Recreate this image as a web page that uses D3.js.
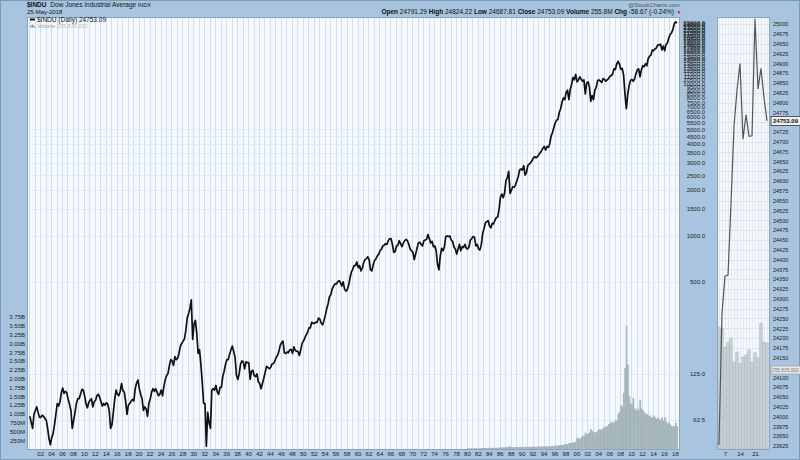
<!DOCTYPE html>
<html><head><meta charset="utf-8">
<script src="https://cdn.jsdelivr.net/npm/d3@7"></script>
<style>
html,body{margin:0;padding:0;background:#a8c4de;}
svg{display:block;font-family:Arial,"Liberation Sans",sans-serif;}
</style></head><body>
<svg id="c" width="800" height="460"></svg>
<script>
// ---------- DATA ----------
const dowStartYear = 1900; // quarterly closes (approx.), Dow Jones Industrial Average
const dow1900s = [66,60,55,68, 72,76,70,65, 65,67,66,64, 62,55,47,43, 48,51,58,68, 80,77,82,94, 101,93,96,94, 85,79,72,55, 62,70,80,86, 86,92,99,98];
const dow1910s = [90,80,75,81, 84,86,76,82, 84,90,92,88, 82,77,80,78, 81,79,72,55, 58,70,85,98, 92,90,96,108, 97,95,83,68, 78,80,83,85, 83,100,109,114];
const dow1920s = [100,92,86,72, 76,74,66,80, 86,95,100,96, 100,95,90,92, 98,90,104,115, 122,126,142,155, 152,142,162,155, 158,170,190,198, 205,212,240,290, 310,335,381,210];
const dow1930s = [265,280,230,170, 180,145,110,80, 80,42,70,60, 55,98,100,98, 105,95,92,102, 102,120,130,144, 155,155,168,180, 190,175,160,123, 115,125,145,152, 150,135,150,148];
const dow1940s = [148,115,130,132, 122,120,125,111, 108,100,108,117, 128,140,138,135, 138,145,146,151, 160,165,175,192, 200,205,172,170, 174,172,180,181, 170,188,178,176, 175,165,180,198];
const dow1950s = [205,215,225,234, 250,250,272,268, 268,272,272,290, 285,268,262,280, 303,333,360,400, 412,450,470,485, 485,500,510,495, 470,500,450,435, 445,475,530,580, 605,640,640,675];
const dow1960s = [620,640,590,615, 670,700,710,730, 700,600,590,650, 690,710,740,760, 800,820,860,870, 890,880,930,960, 960,880,780,790, 860,870,930,890, 850,900,930,950, 930,880,820,800];
const dow1970s = [780,700,760,830, 900,910,880,860, 930,940,950,1020, 960,900,920,850, 860,800,650,600, 740,830,800,850, 990,1000,990,1000, 940,920,850,820, 760,820,880,800, 850,840,880,830];
const dow1980s = [820,850,940,960, 990,980,860,880, 820,810,880,1040, 1120,1220,1240,1260, 1160,1130,1210,1200, 1270,1320,1330,1500, 1800,1880,1780,1900, 2300,2400,2650,1900, 1990,2100,2080,2160, 2300,2450,2700,2740];
const dow1990s = [2700,2880,2500,2600, 2900,2950,3010,3100, 3230,3300,3250,3300, 3400,3500,3600,3750, 3850,3650,3850,3800, 4000,4500,4750,5100, 5500,5700,5800,6450, 6800,7500,8000,7800, 8700,9000,7800,9100, 9800,10900,10500,11400];
const dow2000s = [10200,10500,11000,10600, 10300,10500,8500,10000, 10200,9500,7600,8300, 7800,9000,9400,10400, 10500,10300,10100,10700, 10600,10300,10500,10700, 11100,11200,11500,12400, 12300,13400,13900,13300, 12300,12500,11300,8500, 6800,8400,9600,10400];
const dow2010s = [10600,10300,10600,11500, 12200,12400,11000,12200, 13000,12800,13400,13000, 14500,15000,15300,16500, 16300,16800,17000,17800, 17800,18000,16500,17500, 16300,17900,18300,19700, 20800,21300,22400,24500, 25200,24753];

const volStartYear = 1980; // quarterly volume, millions of shares
const vol1980s = [15,15,18,18, 18,17,18,18, 18,20,28,30, 30,32,30,30, 30,30,33,32, 33,35,35,38, 42,45,48,45, 55,55,60,80, 50,50,48,50, 50,52,55,60];
const vol1990s = [55,58,60,58, 62,60,60,65, 65,62,62,65, 70,70,72,75, 75,72,72,75, 80,82,85,90, 100,100,98,105, 115,112,118,140, 140,135,170,165, 180,185,190,210];
const vol2000s = [320,300,290,330, 380,360,460,420, 430,470,560,520, 480,470,480,520, 560,550,560,600, 620,640,650,700, 720,780,740,760, 820,800,1000,1050, 1250,1200,1600,2300, 3500,2400,1500,1300];
const vol2010s = [1250,1450,1150,1100, 1150,1100,1400,1150, 1100,1050,1000,1000, 950,950,900,900, 950,900,850,900, 850,820,900,800, 900,780,720,760, 700,650,640,650, 750,640];

const priceTicks = [62.5,125,500,1000,1500,2000,2500,3000,3500,4000,4500,5000,5500,6000,6500,7000,7500,8000,8500,9000,9500,10000,10500,11000,11500,12000,12500,13000,13500,14000,14500,15000,15500,16000,16500,17000,17500,18000,18500,19000,19500,20000,20500,21000,21500,22000,22500,23000,23500,24000,24500,25000];
const volTicks = [250,500,750,1000,1250,1500,1750,2000,2250,2500,2750,3000,3250,3500,3750];
const yearTicks = [1902,1904,1906,1908,1910,1912,1914,1916,1918,1920,1922,1924,1926,1928,1930,1932,1934,1936,1938,1940,1942,1944,1946,1948,1950,1952,1954,1956,1958,1960,1962,1964,1966,1968,1970,1972,1974,1976,1978,1980,1982,1984,1986,1988,1990,1992,1994,1996,1998,2000,2002,2004,2006,2008,2010,2012,2014,2016,2018];

// last month (May 2018) detail panel
const mayDays = [1,2,3,4,7,8,9,10,11,14,15,16,17,18,21,22,23,24,25];
const mayCloses = [24099.05,23924.98,23930.15,24262.51,24357.32,24360.21,24542.54,24739.53,24831.17,24899.41,24706.41,24768.93,24713.98,24715.09,25013.29,24834.41,24886.81,24811.76,24753.09];
const mayVolumes = [300,294,294,290,246,258,268,210,234,207,222,227,239,210,232,220,304,258,255.8];
const miniDayTicks = [7,14,21];
const miniPriceTicks = d3.range(23925, 25001, 25);

// ---------- LAYOUT ----------
const W = 800, H = 460;
const P = {l:27, r:680, t:17, b:449};
const M = {l:717, r:770, t:17, b:449};
const svg = d3.select("#c");
const FONT = 6;

svg.append("rect").attr("width",W).attr("height",H).attr("fill","#a8c4de");
svg.append("rect").attr("x",0.5).attr("y",0.5).attr("width",W-1).attr("height",H-1)
  .attr("fill","none").attr("stroke","#7b9bbd");

// scales
const x = d3.scaleLinear().domain([1899.6, 2018.75]).range([P.l, P.r-1]);
const y = d3.scaleLog().domain([40.3, 27100]).range([P.b, P.t]);
const yVol = d3.scaleLinear().domain([0, 3750]).range([P.b, 317]);

const prices = [].concat(dow1900s,dow1910s,dow1920s,dow1930s,dow1940s,dow1950s,dow1960s,dow1970s,dow1980s,dow1990s,dow2000s,dow2010s)
  .map((v,i)=>({t: dowStartYear + (i+0.5)/4, v}));
const vols = [].concat(vol1980s,vol1990s,vol2000s,vol2010s)
  .map((v,i)=>({t: volStartYear + i/4, v}));

// main panel
svg.append("rect").attr("x",P.l).attr("y",P.t).attr("width",P.r-P.l).attr("height",P.b-P.t)
  .attr("fill","#f5f9fd");
svg.append("clipPath").attr("id","clipP").append("rect")
  .attr("x",P.l).attr("y",P.t).attr("width",P.r-P.l).attr("height",P.b-P.t);
const gP = svg.append("g").attr("clip-path","url(#clipP)");

// grid
gP.append("g").selectAll("line").data(d3.range(1900, 2019)).join("line")
  .attr("x1",d=>Math.round(x(d))+0.5).attr("x2",d=>Math.round(x(d))+0.5)
  .attr("y1",P.t).attr("y2",P.b).attr("stroke","#cfe1ef").attr("stroke-width",1);
gP.append("g").selectAll("line").data(priceTicks.filter(d=>d<=5000)).join("line")
  .attr("x1",P.l).attr("x2",P.r)
  .attr("y1",d=>Math.round(y(d))+0.5).attr("y2",d=>Math.round(y(d))+0.5)
  .attr("stroke","#e1ebf3").attr("stroke-width",1);

// volume
gP.append("g").selectAll("rect").data(vols).join("rect")
  .attr("x",d=>x(d.t)).attr("width",x(1901)-x(1900.75)+0.4)
  .attr("y",d=>yVol(d.v)).attr("height",d=>P.b-yVol(d.v))
  .attr("fill","#a5b6ba");

// price line
gP.append("path").datum(prices)
  .attr("d", d3.line().x(d=>x(d.t)).y(d=>y(d.v)))
  .attr("fill","none").attr("stroke","#111").attr("stroke-width",1.7)
  .attr("stroke-linejoin","round");

svg.append("rect").attr("x",P.l+0.5).attr("y",P.t+0.5).attr("width",P.r-P.l-1).attr("height",P.b-P.t)
  .attr("fill","none").attr("stroke","#86a5c6");

// axes main
const axR = svg.append("g").attr("transform",`translate(${P.r},0)`)
  .call(d3.axisRight(y).tickValues(priceTicks).tickFormat(d=>d.toFixed(1)).tickSize(0));
axR.select(".domain").remove();
axR.selectAll("text").attr("x",25).attr("text-anchor","end").attr("font-size",FONT).attr("fill","#222");

const axL = svg.append("g").attr("transform",`translate(${P.l},0)`)
  .call(d3.axisLeft(yVol).tickValues(volTicks)
    .tickFormat(d=> d>=1000 ? (d/1000).toFixed(2)+"B" : d+"M").tickSize(0).tickPadding(2));
axL.select(".domain").remove();
axL.selectAll("text").attr("font-size",FONT).attr("fill","#222");

const axB = svg.append("g").attr("transform",`translate(0,${P.b})`)
  .call(d3.axisBottom(x).tickValues(yearTicks).tickFormat(d=>String(d%100).padStart(2,"0")).tickSize(0).tickPadding(3));
axB.select(".domain").remove();
axB.selectAll("text").attr("font-size",FONT).attr("fill","#222");

// ---------- MINI PANEL ----------
const xm = d3.scaleLinear().domain([0, mayDays.length-1]).range([713, 767]);
const ym = d3.scaleLinear().domain([23917.4, 25017.8]).range([M.b, M.t]);
const ymv = d3.scaleLinear().domain([0, 1042.5]).range([M.b, M.t]);

svg.append("rect").attr("x",M.l).attr("y",M.t).attr("width",M.r-M.l).attr("height",M.b-M.t)
  .attr("fill","#f6f8fb");
svg.append("clipPath").attr("id","clipM").append("rect")
  .attr("x",M.l).attr("y",M.t).attr("width",M.r-M.l).attr("height",M.b-M.t);
const gM = svg.append("g").attr("clip-path","url(#clipM)");
gM.append("g").selectAll("line").data(miniPriceTicks).join("line")
  .attr("x1",M.l).attr("x2",M.r).attr("y1",d=>Math.round(ym(d))+0.5).attr("y2",d=>Math.round(ym(d))+0.5)
  .attr("stroke","#d6e4ef");
gM.append("g").selectAll("line").data(mayDays.map((d,i)=>i)).join("line")
  .attr("x1",d=>Math.round(xm(d))+0.5).attr("x2",d=>Math.round(xm(d))+0.5).attr("y1",M.t).attr("y2",M.b)
  .attr("stroke","#e2ebf3");
gM.append("g").selectAll("rect").data(mayVolumes).join("rect")
  .attr("x",(d,i)=>xm(i)-1.2).attr("width",2.4)
  .attr("y",d=>ymv(d)).attr("height",d=>M.b-ymv(d))
  .attr("fill","#c7d0d4").attr("stroke","#a4b1b6").attr("stroke-width",0.5);
gM.append("path").datum(mayCloses)
  .attr("d", d3.line().x((d,i)=>xm(i)).y(d=>ym(d)))
  .attr("fill","none").attr("stroke","#555").attr("stroke-width",1.2);
svg.append("rect").attr("x",M.l+0.5).attr("y",M.t+0.5).attr("width",M.r-M.l-1).attr("height",M.b-M.t)
  .attr("fill","none").attr("stroke","#86a5c6");

// value tags on mini axis
const lastClose = mayCloses[mayCloses.length-1];
const tagY = ym(lastClose);
const volTagY = 370;

const axM = svg.append("g").attr("transform",`translate(${M.r},0)`)
  .call(d3.axisRight(ym).tickValues(miniPriceTicks.filter(d=>Math.abs(ym(d)-tagY)>6 && Math.abs(ym(d)-volTagY)>6))
    .tickFormat(d3.format("d")).tickSize(0).tickPadding(3));
axM.select(".domain").remove();
axM.selectAll("text").attr("font-size",5.5).attr("fill","#222");

const axMB = svg.append("g").attr("transform",`translate(0,${M.b})`)
  .call(d3.axisBottom(xm).tickValues(miniDayTicks.map(d=>mayDays.indexOf(d))).tickFormat(i=>mayDays[i]).tickSize(0).tickPadding(3));
axMB.select(".domain").remove();
axMB.selectAll("text").attr("font-size",FONT).attr("fill","#222");

svg.append("rect").attr("x",771).attr("y",tagY-4.5).attr("width",30).attr("height",9)
  .attr("fill","#f0f0f0").attr("stroke","#333").attr("stroke-width",0.8);
svg.append("text").attr("x",773).attr("y",tagY+2).attr("font-size",6).attr("font-weight","bold")
  .attr("fill","#111").text(lastClose.toFixed(2));
svg.append("rect").attr("x",771).attr("y",volTagY-4).attr("width",30).attr("height",8)
  .attr("fill","#e6e6e6").attr("stroke","#999").attr("stroke-width",0.6);
svg.append("text").attr("x",772).attr("y",volTagY+2).attr("font-size",4.8).attr("fill","#777").text("255,835,000");

// ---------- HEADER ----------
const h1 = svg.append("text").attr("x",27).attr("y",7).attr("font-size",6.5).attr("fill","#111");
h1.append("tspan").attr("font-weight","bold").text("$INDU");
h1.append("tspan").text(" Dow Jones Industrial Average").attr("dx",2);
h1.append("tspan").text(" INDX").attr("font-size",5.5);
svg.append("text").attr("x",27).attr("y",14).attr("font-size",6).attr("fill","#111").text("25-May-2018");
svg.append("text").attr("x",680).attr("y",7).attr("text-anchor","end").attr("font-size",6).attr("fill","#555").text("@StockCharts.com");
const h2 = svg.append("text").attr("x",674).attr("y",14).attr("text-anchor","end").attr("font-size",6.5).attr("fill","#111");
[["Open","24791.29"],["High","24824.22"],["Low","24687.81"],["Close","24753.09"],["Volume","255.8M"],["Chg","-58.67 (-0.24%)"]]
  .forEach(([k,v],i)=>{
    h2.append("tspan").attr("font-weight","bold").text((i? "  ":"")+k+" ");
    h2.append("tspan").text(v);
  });
svg.append("text").attr("x",676.5).attr("y",14).attr("font-size",5).attr("fill","#cc1040").text("▼");

// legend
svg.append("line").attr("x1",30).attr("x2",35).attr("y1",19.5).attr("y2",19.5).attr("stroke","#111").attr("stroke-width",2);
svg.append("text").attr("x",37).attr("y",22).attr("font-size",6.5).attr("fill","#111").text("$INDU (Daily) 24753.09");
svg.append("g").selectAll("rect").data([2,3,1.5]).join("rect")
  .attr("x",(d,i)=>30+i*1.8).attr("y",d=>27.5-d).attr("width",1.4).attr("height",d=>d).attr("fill","#888");
const lv = svg.append("text").attr("x",37).attr("y",27.5).attr("font-size",5.5).attr("fill","#999");
lv.append("tspan").text("Volume ");
lv.append("tspan").attr("fill","#bbb").text("255,835,000");
</script>
</body></html>
